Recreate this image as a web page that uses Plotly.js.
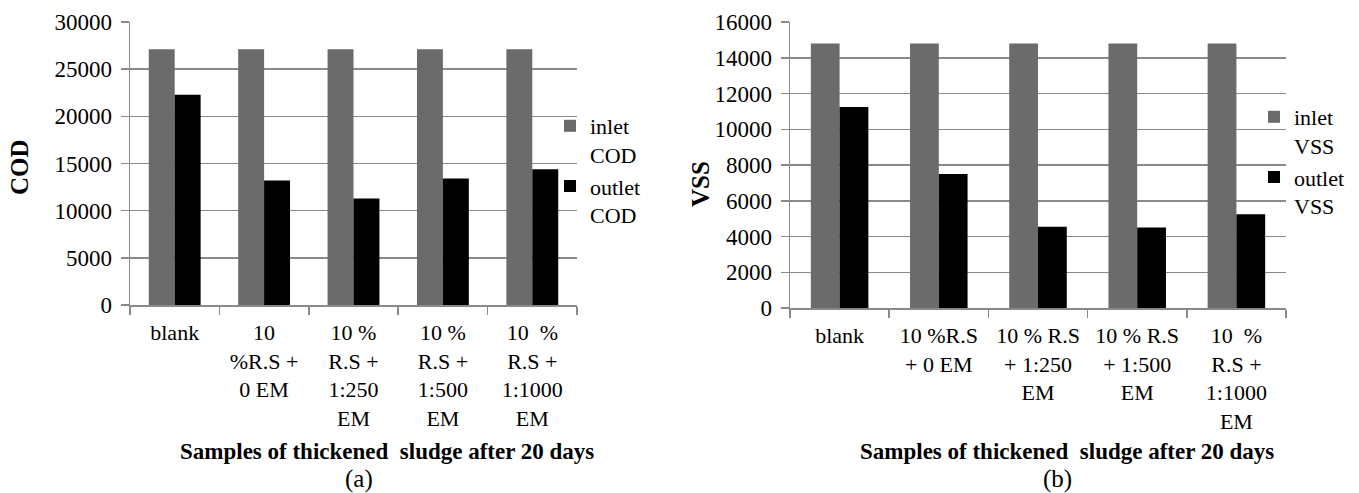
<!DOCTYPE html>
<html>
<head>
<meta charset="utf-8">
<script src="https://cdn.plot.ly/plotly-3.0.1.min.js"></script>
<style>html,body{margin:0;padding:0;background:#fff;}#chart{width:1359px;height:493px;}</style>
</head>
<body>
<div id="chart"></div>
<script>
// ---- data ----
const categoriesCOD = [
  "blank",
  "10<br>%R.S +<br>0 EM",
  "10 %<br>R.S +<br>1:250<br>EM",
  "10 %<br>R.S +<br>1:500<br>EM",
  "10\u00a0 %<br>R.S +<br>1:1000<br>EM"
];
const categoriesVSS = [
  "blank",
  "10 %R.S<br>+ 0 EM",
  "10 % R.S<br>+ 1:250<br>EM",
  "10 % R.S<br>+ 1:500<br>EM",
  "10\u00a0 %<br>R.S +<br>1:1000<br>EM"
];
const inletCOD  = [27100, 27100, 27100, 27100, 27100];
const outletCOD = [22300, 13200, 11300, 13400, 14400];
const inletVSS  = [14800, 14800, 14800, 14800, 14800];
const outletVSS = [11250, 7500, 4550, 4500, 5250];

const seriesNamesCOD = ["inlet<br>COD", "outlet<br>COD"];
const seriesNamesVSS = ["inlet<br>VSS", "outlet<br>VSS"];
const yTitleCOD = "COD";
const yTitleVSS = "VSS";
const xTitle = "Samples of thickened\u00a0 sludge after 20 days";
const panelLabels = ["(a)", "(b)"];

// ---- styling ----
const W = 1359, H = 493;
const FONT = "Liberation Serif, Times New Roman, serif";
const GRID = "#8a8a8a";
const GRAY = "#6b6b6b";
const FS = 22;
const px = v => v / W;
const py = v => 1 - v / H;

const traces = [
  {type: "bar", x: categoriesCOD, y: inletCOD, name: seriesNamesCOD[0], marker: {color: GRAY}, xaxis: "x", yaxis: "y", legend: "legend"},
  {type: "bar", x: categoriesCOD, y: outletCOD, name: seriesNamesCOD[1], marker: {color: "#000"}, xaxis: "x", yaxis: "y", legend: "legend"},
  {type: "bar", x: categoriesVSS, y: inletVSS, name: seriesNamesVSS[0], marker: {color: GRAY}, xaxis: "x2", yaxis: "y2", legend: "legend2"},
  {type: "bar", x: categoriesVSS, y: outletVSS, name: seriesNamesVSS[1], marker: {color: "#000"}, xaxis: "x2", yaxis: "y2", legend: "legend2"}
];

const xCommon = {
  type: "category", range: [-0.5, 4.5], tickson: "boundaries",
  ticks: "outside", ticklen: 8, tickwidth: 1.5, tickcolor: GRID,
  showline: true, linecolor: GRID, linewidth: 1.5, showgrid: false, zeroline: false,
  tickfont: {family: FONT, size: FS, color: "#000"}, ticklabelstandoff: 7,
  tickangle: 0, fixedrange: true, automargin: false
};
const yCommon = {
  ticks: "outside", ticklen: 8, tickwidth: 1.5, tickcolor: GRID,
  showline: true, linecolor: GRID, linewidth: 1.5,
  showgrid: true, gridcolor: GRID, gridwidth: 1.5, zeroline: false,
  tickfont: {family: FONT, size: 23, color: "#000"}, ticklabelstandoff: 4,
  tickformat: "d", fixedrange: true, automargin: false
};

const legendCommon = {
  font: {family: FONT, size: FS, color: "#000"}, bgcolor: "rgba(0,0,0,0)",
  xanchor: "left", yanchor: "top", valign: "top", itemwidth: 30, tracegroupgap: 0
};

const layout = {
  width: W, height: H,
  margin: {l: 0, r: 0, t: 0, b: 0},
  paper_bgcolor: "#fff", plot_bgcolor: "#fff",
  font: {family: FONT, size: FS, color: "#000"},
  barmode: "group", bargap: 0.42, bargroupgap: 0,
  showlegend: true,
  xaxis: Object.assign({}, xCommon, {domain: [px(130), px(577)], anchor: "y"}),
  yaxis: Object.assign({}, yCommon, {domain: [py(305), py(22)], anchor: "x", range: [0, 30000], dtick: 5000}),
  xaxis2: Object.assign({}, xCommon, {domain: [px(790), px(1286)], anchor: "y2"}),
  yaxis2: Object.assign({}, yCommon, {domain: [py(308), py(22)], anchor: "x2", range: [0, 16000], dtick: 2000}),
  legend: Object.assign({}, legendCommon, {x: px(550), y: py(105)}),
  legend2: Object.assign({}, legendCommon, {x: px(1254), y: py(96)}),
  annotations: [
    {text: "<b>" + yTitleCOD + "</b>", x: px(19), y: py(167), xref: "paper", yref: "paper", textangle: -90, showarrow: false, font: {family: FONT, size: 25, color: "#000"}, xanchor: "center", yanchor: "middle"},
    {text: "<b>" + yTitleVSS + "</b>", x: px(700), y: py(184), xref: "paper", yref: "paper", textangle: -90, showarrow: false, font: {family: FONT, size: 25, color: "#000"}, xanchor: "center", yanchor: "middle"},
    {text: "<b>" + xTitle + "</b>", x: px(387), y: py(451), xref: "paper", yref: "paper", showarrow: false, font: {family: FONT, size: 23, color: "#000"}, xanchor: "center", yanchor: "middle"},
    {text: "<b>" + xTitle + "</b>", x: px(1067), y: py(451), xref: "paper", yref: "paper", showarrow: false, font: {family: FONT, size: 23, color: "#000"}, xanchor: "center", yanchor: "middle"},
    {text: panelLabels[0], x: px(359), y: py(479), xref: "paper", yref: "paper", showarrow: false, font: {family: FONT, size: 25, color: "#000"}, xanchor: "center", yanchor: "middle"},
    {text: panelLabels[1], x: px(1057), y: py(479), xref: "paper", yref: "paper", showarrow: false, font: {family: FONT, size: 25, color: "#000"}, xanchor: "center", yanchor: "middle"}
  ]
};

Plotly.newPlot("chart", traces, layout, {staticPlot: true, displayModeBar: false});
</script>
</body>
</html>
